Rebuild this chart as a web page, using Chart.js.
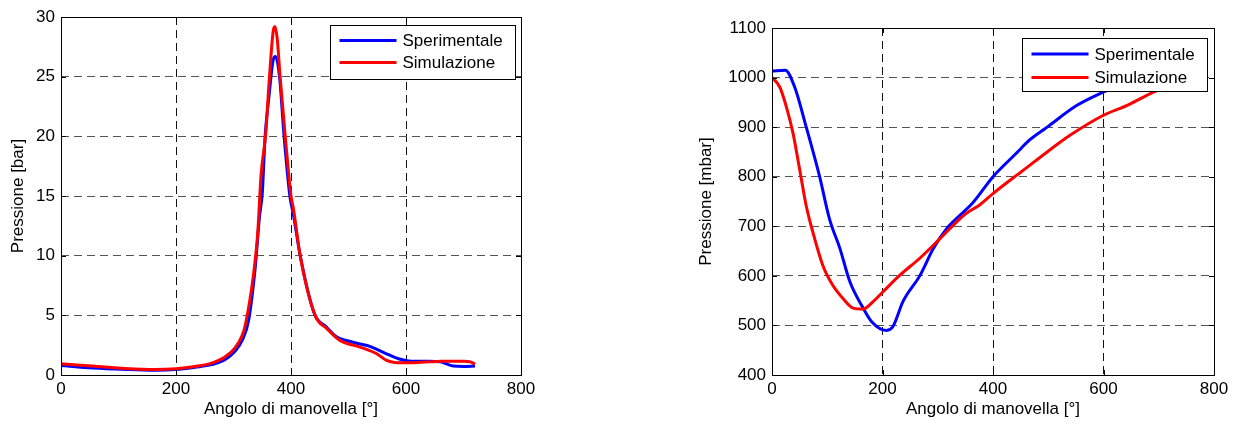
<!DOCTYPE html>
<html>
<head>
<meta charset="utf-8">
<title>Pressione vs angolo di manovella</title>
<script src="https://cdn.jsdelivr.net/npm/chart.js@4/dist/chart.umd.min.js"></script>
<style>
    body { margin: 0; background: #fff; }
    .wrap { position: absolute; top: 0; width: 620px; height: 428px; }
    #left { left: 0; }
    #right { left: 620px; }
</style>
</head>
<body>
<div class="wrap" id="left"><canvas id="chartLeft" width="620" height="428"></canvas></div>
<div class="wrap" id="right"><canvas id="chartRight" width="620" height="428"></canvas></div>
<script>
// Series names and axis labels
const seriesNames = ['Sperimentale', 'Simulazione'];
const xTitle = 'Angolo di manovella [°]';
const leftYTitle = 'Pressione [bar]';
const rightYTitle = 'Pressione [mbar]';

// Left plot - cylinder pressure [bar]
const leftExpAngle = [0, 47, 105, 163, 200, 233, 262, 285, 303, 315, 326, 338, 345, 350, 355, 362, 369, 373, 380, 388, 398, 404, 416, 441, 462, 479, 500, 520, 537, 566, 587, 601, 620, 640, 660, 682, 700, 720];
const leftExpP = [0.8, 0.6, 0.48, 0.4, 0.46, 0.65, 0.87, 1.28, 2.0, 2.9, 4.5, 9.1, 13.2, 15.2, 20.0, 23.5, 26.4, 26.7, 25.0, 20.0, 15.0, 13.5, 10.0, 5.1, 4.0, 3.2, 2.85, 2.6, 2.4, 1.78, 1.36, 1.2, 1.15, 1.15, 1.1, 0.75, 0.72, 0.75];
const leftSimAngle = [0, 47, 105, 163, 200, 233, 262, 285, 303, 315, 321, 335, 342, 348, 356, 362, 369, 372, 376, 381, 390, 400, 404, 416, 442, 462, 485, 520, 549, 566, 580, 595, 620, 640, 660, 700, 712, 720];
const leftSimP = [0.94, 0.77, 0.57, 0.46, 0.52, 0.71, 0.99, 1.5, 2.3, 3.3, 4.3, 8.5, 11.8, 16.8, 20.2, 24.6, 28.8, 29.2, 28.2, 25.0, 20.0, 15.0, 14.0, 10.0, 5.0, 3.9, 2.9, 2.34, 1.78, 1.22, 1.05, 1.02, 1.05, 1.1, 1.15, 1.15, 1.1, 0.9];

// Right plot - intake pressure [mbar]
const rightExpAngle = [0, 24, 41, 62, 86, 104, 123, 141, 165, 180, 207, 219, 237, 268, 292, 316, 341, 364, 400, 420, 449, 462, 498, 552, 600, 650, 720];
const rightExpP = [1013, 1015, 981, 900, 801, 715, 655, 588, 535, 508, 490, 498, 548, 601, 655, 695, 723, 748, 800, 823, 855, 870, 900, 944, 971, 995, 1015];
const rightSimAngle = [0, 14, 26, 38, 50, 62, 74, 92, 110, 128, 147, 165, 183, 201, 231, 267, 304, 340, 353, 377, 400, 438, 449, 498, 540, 600, 643, 691, 720];
const rightSimP = [1000, 981, 941, 888, 815, 741, 688, 621, 581, 555, 535, 533, 548, 568, 601, 635, 675, 715, 727, 744, 766, 799, 808, 850, 884, 924, 944, 971, 985];

const colors = ['#0000ff', '#ff0000'];
const FONT = { family: "'Liberation Sans', Arial, sans-serif", size: 17 };

function toPoints(xs, ys) {
    return xs.map((x, i) => ({ x: x, y: ys[i] }));
}

// Box frame, inward ticks and a boxed legend like the matlab figure
const matlabFrame = {
    id: 'matlabFrame',
    afterDraw(chart, args, opts) {
        const { ctx, chartArea: a, scales } = chart;
        ctx.save();
        ctx.setLineDash([]);
        ctx.strokeStyle = '#000';
        ctx.lineWidth = 1;
        ctx.strokeRect(Math.round(a.left) + 0.5, Math.round(a.top) + 0.5,
            Math.round(a.right - a.left), Math.round(a.bottom - a.top));

        ctx.beginPath();
        scales.x.ticks.forEach(t => {
            const px = Math.round(scales.x.getPixelForValue(t.value)) + 0.5;
            ctx.moveTo(px, a.bottom); ctx.lineTo(px, a.bottom - 5);
            ctx.moveTo(px, a.top); ctx.lineTo(px, a.top + 5);
        });
        scales.y.ticks.forEach(t => {
            const py = Math.round(scales.y.getPixelForValue(t.value)) + 0.5;
            ctx.moveTo(a.left, py); ctx.lineTo(a.left + 5, py);
            ctx.moveTo(a.right, py); ctx.lineTo(a.right - 5, py);
        });
        ctx.stroke();

        // legend
        const bx = Math.round(a.right - opts.right - opts.w) + 0.5;
        const by = Math.round(a.top + opts.top) + 0.5;
        ctx.fillStyle = '#fff';
        ctx.fillRect(bx, by, opts.w, opts.h);
        ctx.strokeRect(bx, by, opts.w, opts.h);
        ctx.font = FONT.size + 'px ' + FONT.family;
        ctx.textBaseline = 'middle';
        chart.data.datasets.forEach((ds, i) => {
            const ry = by + opts.rows[i];
            ctx.strokeStyle = ds.borderColor;
            ctx.lineWidth = 3;
            ctx.beginPath();
            ctx.moveTo(bx + 9, ry);
            ctx.lineTo(bx + 66, ry);
            ctx.stroke();
            ctx.fillStyle = '#000';
            ctx.fillText(ds.label, bx + 72, ry + 1);
        });
        ctx.restore();
    }
};

function makeChart(canvasId, cfg) {
    return new Chart(document.getElementById(canvasId), {
        type: 'line',
        data: {
            datasets: [
                {
                    label: seriesNames[0],
                    data: toPoints(cfg.expX, cfg.expY),
                    borderColor: colors[0],
                    order: 1
                },
                {
                    label: seriesNames[1],
                    data: toPoints(cfg.simX, cfg.simY),
                    borderColor: colors[1],
                    order: 0
                }
            ]
        },
        options: {
            responsive: false,
            animation: false,
            events: [],
            layout: { padding: cfg.padding },
            elements: {
                line: { borderWidth: 3, cubicInterpolationMode: 'monotone', fill: false },
                point: { radius: 0 }
            },
            plugins: {
                legend: { display: false },
                tooltip: { enabled: false },
                matlabFrame: cfg.legendBox
            },
            scales: {
                x: {
                    type: 'linear',
                    min: 0, max: 800,
                    afterFit: s => { s.height = cfg.xHeight; },
                    ticks: { stepSize: 200, color: '#000', font: FONT, padding: 4, maxRotation: 0,
                        format: { useGrouping: false } },
                    grid: { color: '#111', lineWidth: 1, drawTicks: false },
                    border: { display: false, dash: [8, 5] },
                    title: { display: true, text: xTitle, color: '#000', font: FONT }
                },
                y: {
                    type: 'linear',
                    min: cfg.yMin, max: cfg.yMax,
                    afterFit: s => { s.width = cfg.yWidth; },
                    ticks: { stepSize: cfg.yStep, color: '#000', font: FONT, padding: 6,
                        format: { useGrouping: false } },
                    grid: { color: '#555', lineWidth: 1, drawTicks: false },
                    border: { display: false, dash: [8, 5] },
                    title: { display: true, text: cfg.yTitle, color: '#000', font: FONT }
                }
            }
        },
        plugins: [matlabFrame]
    });
}

makeChart('chartLeft', {
    expX: leftExpAngle, expY: leftExpP,
    simX: leftSimAngle, simY: leftSimP,
    yMin: 0, yMax: 30, yStep: 5, yTitle: leftYTitle,
    padding: { left: 4, top: 17, right: 99, bottom: 4 },
    yWidth: 57, xHeight: 49,
    legendBox: { right: 6, top: 8, w: 185, h: 54, rows: [15, 37] }
});

makeChart('chartRight', {
    expX: rightExpAngle, expY: rightExpP,
    simX: rightSimAngle, simY: rightSimP,
    yMin: 400, yMax: 1100, yStep: 100, yTitle: rightYTitle,
    padding: { left: 72, top: 28, right: 26, bottom: 4 },
    yWidth: 80, xHeight: 49,
    legendBox: { right: 7, top: 10, w: 185, h: 53, rows: [15.5, 39] }
});
</script>
</body>
</html>
